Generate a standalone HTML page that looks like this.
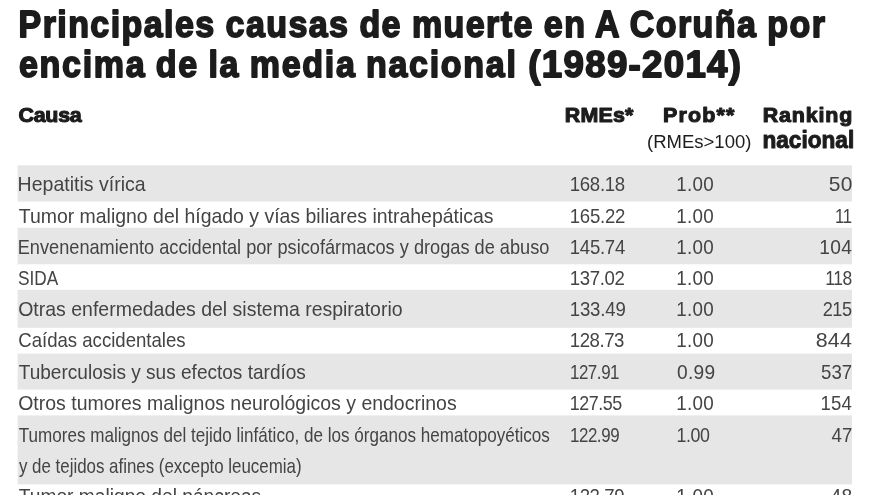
<!DOCTYPE html>
<html lang="es"><head><meta charset="utf-8"><title>Principales causas de muerte en A Coruña</title>
<style>
html,body{margin:0;padding:0;background:#fff}
body{width:880px;height:495px;overflow:hidden}
svg{display:block}
text{font-family:"Liberation Sans",sans-serif;white-space:pre}
</style></head><body>
<svg width="880" height="495" viewBox="0 0 880 495">
<rect width="880" height="495" fill="#fff"/>
<rect x="17.6" y="165.3" width="834.4" height="36.2" fill="#e6e6e6"/>
<rect x="17.6" y="227.8" width="834.4" height="36.5" fill="#e6e6e6"/>
<rect x="17.6" y="289.8" width="834.4" height="38.0" fill="#e6e6e6"/>
<rect x="17.6" y="353.6" width="834.4" height="36.0" fill="#e6e6e6"/>
<rect x="17.6" y="415.4" width="834.4" height="69.0" fill="#e6e6e6"/>
<text transform="translate(18.53 36.70) scale(0.9000 1)" font-size="37.8" font-weight="700" fill="#1c1c1c" letter-spacing="1.58" word-spacing="-0.97" stroke="#1c1c1c" stroke-width="1.8" stroke-linejoin="round">Principales causas de muerte en A Coruña por</text>
<text transform="translate(18.98 77.00) scale(0.9000 1)" font-size="37.8" font-weight="700" fill="#1c1c1c" letter-spacing="1.89" word-spacing="-1.81" stroke="#1c1c1c" stroke-width="1.8" stroke-linejoin="round">encima de la media nacional</text>
<text transform="translate(528.33 77.00) scale(0.9700 1)" font-size="37.8" font-weight="700" fill="#1c1c1c" letter-spacing="1.34" stroke="#1c1c1c" stroke-width="1.8" stroke-linejoin="round">(1989-2014)</text>
<text transform="translate(18.54 122.30) scale(1.0200 1)" font-size="21" font-weight="700" fill="#1c1c1c" letter-spacing="-0.27" stroke="#1c1c1c" stroke-width="1.1" stroke-linejoin="round">Causa</text>
<text transform="translate(564.73 122.30) scale(1.0200 1)" font-size="21" font-weight="700" fill="#1c1c1c" letter-spacing="0.21" stroke="#1c1c1c" stroke-width="1.1" stroke-linejoin="round">RMEs*</text>
<text transform="translate(663.03 122.30) scale(1.0200 1)" font-size="21" font-weight="700" fill="#1c1c1c" letter-spacing="1.15" stroke="#1c1c1c" stroke-width="1.1" stroke-linejoin="round">Prob**</text>
<text transform="translate(647.02 148.30) scale(0.9747 1)" font-size="19" fill="#1c1c1c">(RMEs&gt;100)</text>
<text transform="translate(762.63 122.30) scale(1.0200 1)" font-size="21" font-weight="700" fill="#1c1c1c" letter-spacing="0.86" stroke="#1c1c1c" stroke-width="1.1" stroke-linejoin="round">Ranking</text>
<text transform="translate(762.48 147.50) scale(0.9428 1)" font-size="24" font-weight="700" fill="#1c1c1c" stroke="#1c1c1c" stroke-width="1" stroke-linejoin="round">nacional</text>
<text transform="translate(17.59 190.80) scale(0.9768 1)" font-size="20" fill="#444444">Hepatitis vírica</text>
<text transform="translate(569.77 190.80) scale(0.9300 1)" font-size="20" fill="#444444" letter-spacing="-0.31">168.18</text>
<text transform="translate(676.35 190.80) scale(0.9421 1)" font-size="20" fill="#444444" letter-spacing="0.30">1.00</text>
<text transform="translate(828.66 190.80) scale(1.0488 1)" font-size="20" fill="#444444" letter-spacing="0.30">50</text>
<text transform="translate(18.75 222.60) scale(0.9724 1)" font-size="20" fill="#444444">Tumor maligno del hígado y vías biliares intrahepáticas</text>
<text transform="translate(569.77 222.60) scale(0.9300 1)" font-size="20" fill="#444444" letter-spacing="-0.26">165.22</text>
<text transform="translate(676.35 222.60) scale(0.9421 1)" font-size="20" fill="#444444" letter-spacing="0.30">1.00</text>
<text transform="translate(835.12 222.60) scale(0.8355 1)" font-size="20" fill="#444444" letter-spacing="-0.50">11</text>
<text transform="translate(17.71 253.50) scale(0.9094 1)" font-size="20" fill="#444444">Envenenamiento accidental por psicofármacos y drogas de abuso</text>
<text transform="translate(569.77 253.50) scale(0.9300 1)" font-size="20" fill="#444444" letter-spacing="-0.29">145.74</text>
<text transform="translate(676.35 253.50) scale(0.9421 1)" font-size="20" fill="#444444" letter-spacing="0.30">1.00</text>
<text transform="translate(819.22 253.50) scale(0.9616 1)" font-size="20" fill="#444444" letter-spacing="0.30">104</text>
<text transform="translate(18.03 285.00) scale(0.8625 1)" font-size="20" fill="#444444">SIDA</text>
<text transform="translate(569.77 285.00) scale(0.9300 1)" font-size="20" fill="#444444" letter-spacing="-0.36">137.02</text>
<text transform="translate(676.35 285.00) scale(0.9421 1)" font-size="20" fill="#444444" letter-spacing="0.30">1.00</text>
<text transform="translate(825.16 285.00) scale(0.8743 1)" font-size="20" fill="#444444" letter-spacing="-0.50">118</text>
<text transform="translate(18.22 316.00) scale(0.9747 1)" font-size="20" fill="#444444">Otras enfermedades del sistema respiratorio</text>
<text transform="translate(569.77 316.00) scale(0.9300 1)" font-size="20" fill="#444444" letter-spacing="-0.19">133.49</text>
<text transform="translate(676.35 316.00) scale(0.9421 1)" font-size="20" fill="#444444" letter-spacing="0.30">1.00</text>
<text transform="translate(822.69 316.00) scale(0.9092 1)" font-size="20" fill="#444444" letter-spacing="-0.50">215</text>
<text transform="translate(18.20 347.40) scale(0.9307 1)" font-size="20" fill="#444444">Caídas accidentales</text>
<text transform="translate(569.77 347.40) scale(0.9300 1)" font-size="20" fill="#444444" letter-spacing="-0.48">128.73</text>
<text transform="translate(676.35 347.40) scale(0.9421 1)" font-size="20" fill="#444444" letter-spacing="0.30">1.00</text>
<text transform="translate(815.63 347.40) scale(1.0692 1)" font-size="20" fill="#444444" letter-spacing="0.30">844</text>
<text transform="translate(18.76 378.60) scale(0.9529 1)" font-size="20" fill="#444444">Tuberculosis y sus efectos tardíos</text>
<text transform="translate(569.90 378.60) scale(0.8466 1)" font-size="20" fill="#444444" letter-spacing="-0.50">127.91</text>
<text transform="translate(677.02 378.60) scale(0.9592 1)" font-size="20" fill="#444444" letter-spacing="0.30">0.99</text>
<text transform="translate(820.99 378.60) scale(0.9300 1)" font-size="20" fill="#444444" letter-spacing="0.11">537</text>
<text transform="translate(18.22 409.90) scale(0.9744 1)" font-size="20" fill="#444444">Otros tumores malignos neurológicos y endocrinos</text>
<text transform="translate(569.82 409.90) scale(0.8952 1)" font-size="20" fill="#444444" letter-spacing="-0.50">127.55</text>
<text transform="translate(676.35 409.90) scale(0.9421 1)" font-size="20" fill="#444444" letter-spacing="0.30">1.00</text>
<text transform="translate(820.57 409.90) scale(0.9300 1)" font-size="20" fill="#444444" letter-spacing="0.14">154</text>
<text transform="translate(18.80 441.60) scale(0.8543 1)" font-size="20" fill="#444444">Tumores malignos del tejido linfático, de los órganos hematopoyéticos</text>
<text transform="translate(569.90 441.60) scale(0.8468 1)" font-size="20" fill="#444444" letter-spacing="-0.50">122.99</text>
<text transform="translate(676.43 441.60) scale(0.8924 1)" font-size="20" fill="#444444" letter-spacing="-0.50">1.00</text>
<text transform="translate(831.57 441.60) scale(0.9300 1)" font-size="20" fill="#444444" letter-spacing="0.09">47</text>
<text transform="translate(18.98 472.60) scale(0.8450 1)" font-size="20" fill="#444444">y de tejidos afines (excepto leucemia)</text>
<text transform="translate(18.76 503.30) scale(0.9598 1)" font-size="20" fill="#444444">Tumor maligno del páncreas</text>
<text transform="translate(569.77 503.30) scale(0.9300 1)" font-size="20" fill="#444444" letter-spacing="-0.45">122.79</text>
<text transform="translate(676.35 503.30) scale(0.9421 1)" font-size="20" fill="#444444" letter-spacing="0.30">1.00</text>
<text transform="translate(830.55 503.30) scale(0.9664 1)" font-size="20" fill="#444444" letter-spacing="0.30">48</text>
</svg></body></html>
